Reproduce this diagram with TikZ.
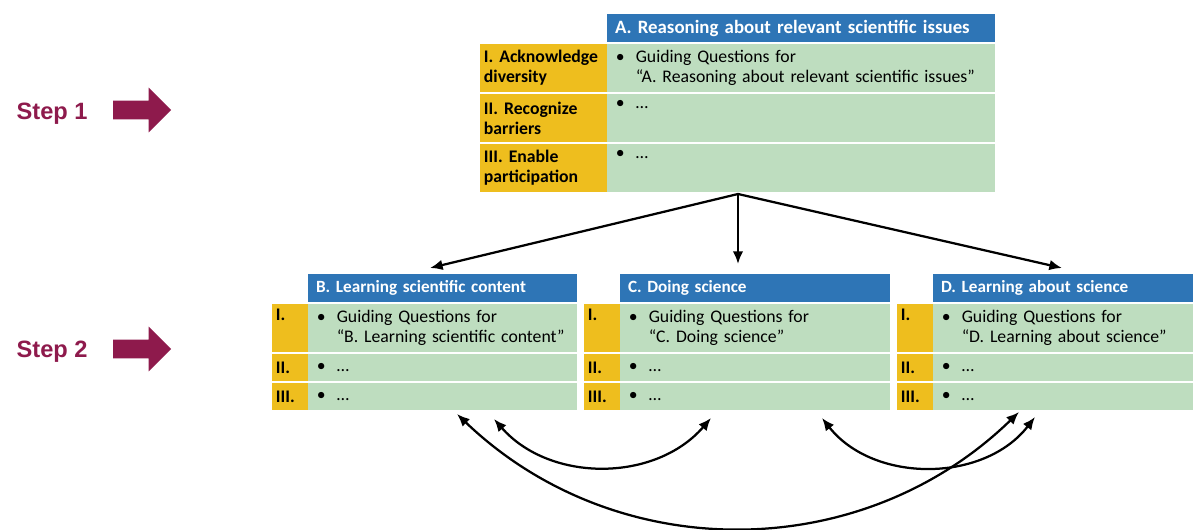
\documentclass[tikz,border=0pt]{standalone}
\usepackage{fontspec}
\setmainfont{Carlito}
\newfontfamily\stepfont{Liberation Sans}
\usepackage{xcolor}
\usepackage{tikz}
\usetikzlibrary{positioning}
\usetikzlibrary{arrows.meta}
\usetikzlibrary{shapes.arrows}

\definecolor{hdrblue}{RGB}{46,117,182}
\definecolor{lvlgold}{RGB}{238,190,30}
\definecolor{cellgreen}{RGB}{190,221,191}
\definecolor{stepred}{RGB}{142,26,76}

\newcommand{\bul}{\makebox[0.5cm][l]{\textbullet}}
\newcommand{\nobul}{\makebox[0.5cm][l]{}}

\begin{document}
\begin{tikzpicture}[x=0.025cm, y=0.025cm,
		node distance=0.05cm,
		every node/.style={outer sep=0pt, inner ysep=0pt},
		hdr/.style={fill=hdrblue, text=white, text width=#1, align=left,
			inner xsep=0.2cm, minimum height=0.7cm, anchor=north west,
			font=\bfseries\fontsize{12.2}{14.4}\selectfont},
		cell/.style={fill=cellgreen, text width=#1, align=left,
			inner xsep=0.22cm, font=\fontsize{12.6}{14.4}\selectfont},
		lvl/.style={fill=lvlgold, text width=#1, align=left,
			inner xsep=0.1cm, font=\bfseries\fontsize{12.6}{14.4}\selectfont},
		steplbl/.style={text=stepred, anchor=base west,
			font=\stepfont\bfseries\fontsize{16.8}{20}\selectfont},
		steparrow/.style={single arrow, fill=stepred, anchor=tail,
			minimum height=1.45cm, inner sep=0pt, text width=0pt,
			text height=0.225cm, text depth=0.225cm,
			single arrow head extend=0.325cm},
		link/.style={-{Latex[length=9pt,width=7.5pt]}, line width=1.6pt},
		twoway/.style={{Latex[length=9pt,width=7.5pt]}-{Latex[length=9pt,width=7.5pt]},
			line width=1.6pt}]
	\useasboundingbox (0,0) rectangle (1193,-530);

	% steps
	\node [steplbl] (step1) at (12,-120) {Step 1};
	\node [steparrow] (step1arr) at (113,-110) {};
	\node [steplbl] (step2) at (12,-358) {Step 2};
	\node [steparrow] (step2arr) at (113,-349) {};

	% table A
	\node [hdr=9.3cm, font=\bfseries\fontsize{13.4}{14.4}\selectfont] (Ahd) at (607,-14)
		{A. Reasoning about relevant scientific issues};
	\node [cell=9.26cm, minimum height=1.2cm, below=of Ahd] (A1)
		{\bul Guiding Questions for\\\nobul “A. Reasoning about relevant scientific issues”};
	\node [cell=9.26cm, minimum height=1.2cm, below=of A1] (A2) {\bul …\\\strut};
	\node [cell=9.26cm, minimum height=1.2cm, below=of A2] (A3) {\bul …\\\strut};
	\node [lvl=2.975cm, minimum height=1.2cm, left=0cm of A1] (A1l) {I. Acknowledge\\diversity};
	\node [lvl=2.975cm, minimum height=1.2cm, left=0cm of A2] (A2l) {II. Recognize\\barriers};
	\node [lvl=2.975cm, minimum height=1.2cm, left=0cm of A3] (A3l) {III. Enable\\participation};

	% table B
	\node [hdr=6.325cm] (Bhd) at (308,-274) {B. Learning scientific content};
	\node [cell=6.285cm, minimum height=1.2cm, below=of Bhd] (B1)
		{\bul Guiding Questions for\\\nobul “B. Learning scientific content”};
	\node [cell=6.285cm, minimum height=0.675cm, below=of B1] (B2) {\bul …};
	\node [cell=6.285cm, minimum height=0.675cm, below=of B2] (B3) {\bul …};
	\node [lvl=0.7cm, minimum height=1.2cm, left=0cm of B1] (B1l) {I.\\\strut};
	\node [lvl=0.7cm, minimum height=0.675cm, left=0cm of B2] (B2l) {II.};
	\node [lvl=0.7cm, minimum height=0.675cm, left=0cm of B3] (B3l) {III.};

	% table C
	\node [hdr=6.35cm] (Chd) at (620,-274) {C. Doing science};
	\node [cell=6.31cm, minimum height=1.2cm, below=of Chd] (C1)
		{\bul Guiding Questions for\\\nobul “C. Doing science”};
	\node [cell=6.31cm, minimum height=0.675cm, below=of C1] (C2) {\bul …};
	\node [cell=6.31cm, minimum height=0.675cm, below=of C2] (C3) {\bul …};
	\node [lvl=0.7cm, minimum height=1.2cm, left=0cm of C1] (C1l) {I.\\\strut};
	\node [lvl=0.7cm, minimum height=0.675cm, left=0cm of C2] (C2l) {II.};
	\node [lvl=0.7cm, minimum height=0.675cm, left=0cm of C3] (C3l) {III.};

	% table D
	\node [hdr=6.1cm] (Dhd) at (933,-274) {D. Learning about science};
	\node [cell=6.06cm, minimum height=1.2cm, below=of Dhd] (D1)
		{\bul Guiding Questions for\\\nobul “D. Learning about science”};
	\node [cell=6.06cm, minimum height=0.675cm, below=of D1] (D2) {\bul …};
	\node [cell=6.06cm, minimum height=0.675cm, below=of D2] (D3) {\bul …};
	\node [lvl=0.7cm, minimum height=1.2cm, left=0cm of D1] (D1l) {I.\\\strut};
	\node [lvl=0.7cm, minimum height=0.675cm, left=0cm of D2] (D2l) {II.};
	\node [lvl=0.7cm, minimum height=0.675cm, left=0cm of D3] (D3l) {III.};

	% A feeds B, C and D
	\coordinate (Aout) at (738,-194);
	\coordinate (Bin) at (430,-268);
	\coordinate (Cin) at (738,-264);
	\coordinate (Din) at (1062,-268);
	\draw [link] (Aout) -- (Bin);
	\draw [link] (Aout) -- (Cin);
	\draw [link] (Aout) -- (Din);

	% links between B, C and D
	\coordinate (bcL) at (494,-419);
	\coordinate (bcR) at (711,-418);
	\coordinate (cdL) at (822,-418);
	\coordinate (cdR) at (1035,-417);
	\coordinate (bdL) at (457,-414);
	\coordinate (bdR) at (1019,-412);
	\draw [twoway] (bcL) to [bend right=49] (bcR);
	\draw [twoway] (cdL) to [bend right=52] (cdR);
	\draw [twoway] (bdL) to [bend right=44] (bdR);
\end{tikzpicture}
\end{document}
